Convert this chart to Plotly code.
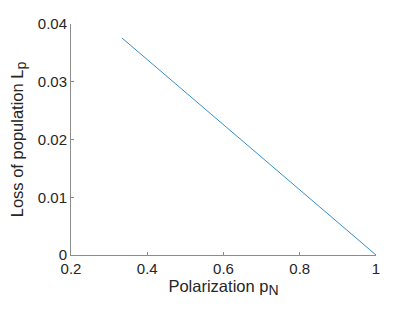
import plotly.graph_objects as go

# data
polarization = [1/3, 1.0]
loss = [0.0376, 0.0]

x_ticks = [0.2, 0.4, 0.6, 0.8, 1.0]
x_ticktext = ["0.2", "0.4", "0.6", "0.8", "1"]
y_ticks = [0, 0.01, 0.02, 0.03, 0.04]
y_ticktext = ["0", "0.01", "0.02", "0.03", "0.04"]

fig = go.Figure()
fig.add_trace(go.Scatter(x=polarization, y=loss, mode="lines",
                         line=dict(color="#0072BD", width=0.8),
                         showlegend=False, hoverinfo="skip"))

axis_common = dict(showgrid=False, zeroline=False, showline=True,
                   linecolor="#8c8c8c", linewidth=1,
                   ticks="inside", ticklen=3, tickcolor="#8c8c8c",
                   tickfont=dict(family="Liberation Sans, Arial, sans-serif", size=15, color="#262626"),
                   mirror=False, automargin=False)

fig.update_layout(
    width=407, height=305,
    margin=dict(l=63, r=39, t=16, b=58),
    paper_bgcolor="white", plot_bgcolor="white",
    font=dict(family="Liberation Sans, Arial, sans-serif", color="#262626"),
    xaxis=dict(range=[0.2, 1.0], tickvals=x_ticks, ticktext=x_ticktext,
               title=dict(text="Polarization p<sub><span style='font-size:14px'>N</span></sub>",
                          font=dict(size=16.5), standoff=3),
               **axis_common),
    yaxis=dict(range=[0, 0.04], tickvals=y_ticks, ticktext=y_ticktext,
               title=dict(text="Loss of population L<sub><span style='font-size:14px'>p</span></sub>",
                          font=dict(size=16.5), standoff=15),
               **axis_common),
)

fig.write_html("out.html")
